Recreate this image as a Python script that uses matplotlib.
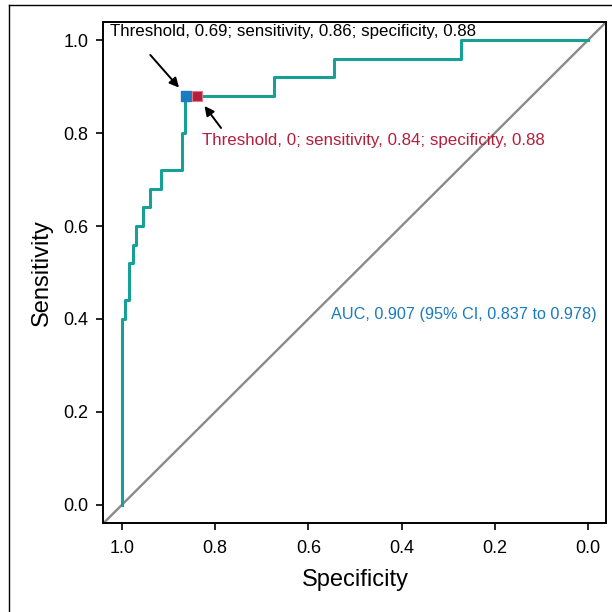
import matplotlib
matplotlib.use("Agg")
import matplotlib.pyplot as plt
from matplotlib.lines import Line2D

plt.rcParams['font.family'] = ['Liberation Sans', 'DejaVu Sans']

# ROC curve vertices (specificity, sensitivity), steps-post
roc_spec = [1.0, 1.0, 0.993, 0.985, 0.977, 0.970, 0.954, 0.939, 0.916, 0.872, 0.865, 0.674, 0.545, 0.272, 0.0]
roc_sens = [0.0, 0.40, 0.44, 0.52, 0.56, 0.60, 0.64, 0.68, 0.72, 0.80, 0.88, 0.92, 0.96, 1.00, 1.00]

# threshold points
best_spec, best_sens = 0.862, 0.88
zero_spec, zero_sens = 0.839, 0.88

ticks = [1.0, 0.8, 0.6, 0.4, 0.2, 0.0]
tick_labels = ["1.0", "0.8", "0.6", "0.4", "0.2", "0.0"]

label_best = "Threshold, 0.69; sensitivity, 0.86; specificity, 0.88"
label_zero = "Threshold, 0; sensitivity, 0.84; specificity, 0.88"
label_auc = "AUC, 0.907 (95% CI, 0.837 to 0.978)"

teal = '#16a096'
red = '#b41f3c'
blue = '#1a7bbf'

fig = plt.figure(figsize=(6.12, 6.12), dpi=100)
ax = fig.add_axes([0.169, 0.145, 0.822, 0.8196])

ax.axline((1, 0), (0, 1), color='#8a8a8a', lw=1.7, zorder=1)
ax.plot(roc_spec, roc_sens, drawstyle='steps-post', color=teal, lw=2.2, zorder=2)

ax.plot([best_spec], [best_sens], 's', ms=7.2, color=blue, mec=blue, zorder=4)
ax.plot([zero_spec], [zero_sens], 's', ms=7.2, color=red, mec='#e0788a', mew=0.8, zorder=4)

ax.annotate('', xy=(best_spec, best_sens), xytext=(-36, 41), textcoords='offset pixels',
            arrowprops=dict(arrowstyle='-|>', color='black', lw=1.4, mutation_scale=14,
                            shrinkA=0, shrinkB=8))
ax.annotate('', xy=(zero_spec, zero_sens), xytext=(24, -32), textcoords='offset pixels',
            arrowprops=dict(arrowstyle='-|>', color='black', lw=1.4, mutation_scale=14,
                            shrinkA=0, shrinkB=9))

ax.text(1.026, 1.019, label_best, fontsize=12.2, color='black', ha='left', va='center')
ax.text(0.829, 0.785, label_zero, fontsize=12.2, color=red, ha='left', va='center')
ax.text(0.552, 0.41, label_auc, fontsize=11.7, color=blue, ha='left', va='center')

ax.set_xlim(1.04, -0.04)
ax.set_ylim(-0.04, 1.04)
ax.set_xticks(ticks)
ax.set_xticklabels(tick_labels)
ax.set_yticks(ticks)
ax.set_yticklabels(tick_labels)
ax.tick_params(labelsize=13, length=5, width=1.2)
ax.tick_params(axis='x', pad=7)
ax.tick_params(axis='y', pad=6)
for s in ax.spines.values():
    s.set_linewidth(1.4)

ax.set_xlabel("Specificity", fontsize=17, labelpad=9)
ax.set_ylabel("Sensitivity", fontsize=17, labelpad=7)

# outer frame of the panel
fig.add_artist(Line2D([9 / 612, 9 / 612], [0, 1 - 5 / 612], color='black', lw=1.0))
fig.add_artist(Line2D([9 / 612, 1], [1 - 5 / 612, 1 - 5 / 612], color='black', lw=1.0))

fig.savefig('out.png', dpi=100)
